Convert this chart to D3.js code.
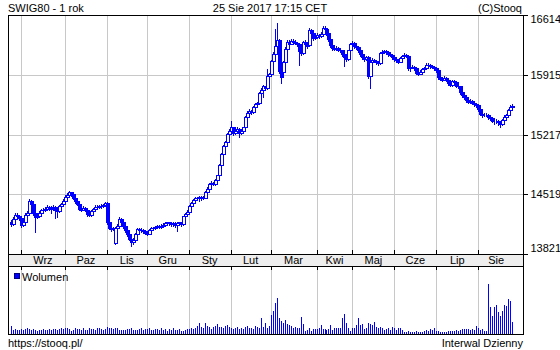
<!DOCTYPE html>
<html>
<head>
<meta charset="utf-8">
<script src="https://cdn.jsdelivr.net/npm/d3@7"></script>
<style>
  body { margin: 0; background: #fff; }
  svg { display: block; font-family: "Liberation Sans", Arial, sans-serif; font-size: 11px; }
</style>
</head>
<body>
<script>
// month labels (first segment = end of Aug 2016, no label) and trading days per month
var monthNames = ["", "Wrz", "Paz", "Lis", "Gru", "Sty", "Lut", "Mar", "Kwi", "Maj", "Cze", "Lip", "Sie"];
var monthDays = [5, 22, 21, 20, 21, 21, 20, 23, 18, 21, 21, 21, 18];
var priceTicks = [13821, 14519, 15217, 15915, 16614];

// daily candles, one line per month
var opens = [
  14200,14170,14230,14280,14260,
  14240,14160,14200,14280,14300,14440,14400,14300,14250,14270,14300,14330,14340,14350,14370,14350,14360,14370,14340,14320,14380,14400,
  14440,14490,14510,14540,14520,14480,14440,14410,14350,14340,14360,14340,14290,14280,14320,14350,14370,14370,14380,14380,14390,
  14420,14190,14130,14110,13950,14130,14150,14230,14200,14150,14100,14050,14000,13960,13990,14060,14110,14100,14100,14090,
  14070,14060,14100,14130,14120,14140,14150,14140,14150,14160,14180,14190,14180,14170,14180,14160,14180,14190,14170,14260,14290,
  14310,14380,14420,14450,14470,14480,14490,14470,14480,14550,14580,14640,14650,14640,14690,14740,14860,14990,15080,15130,15220,
  15260,15300,15230,15260,15280,15230,15260,15300,15420,15470,15490,15480,15540,15570,15580,15700,15740,15780,15760,15900,
  15920,16080,16160,16250,16320,15960,15950,16060,16220,16300,16280,16310,16300,16290,16270,16190,16170,16300,16280,16260,16440,16400,16340,
  16360,16380,16370,16390,16460,16450,16400,16330,16260,16230,16220,16230,16210,16200,16160,16120,16100,16200,
  16270,16290,16250,16240,16200,16160,16120,16100,16120,15900,16070,16090,16080,16060,16050,16170,16180,16190,16180,16160,16150,
  16120,16100,16090,16070,16110,16130,16150,16140,15990,16000,16010,15990,15940,15930,15950,15980,15990,16030,16030,16020,16010,
  15990,15970,15890,15870,15860,15880,15860,15820,15800,15840,15830,15790,15780,15710,15680,15650,15620,15600,15610,15590,15570,
  15560,15510,15460,15440,15450,15450,15420,15410,15380,15370,15380,15360,15340,15390,15420,15450,15500,15540
];
var closes = [
  14170,14230,14280,14260,14240,
  14160,14200,14280,14300,14440,14400,14300,14250,14270,14300,14330,14340,14350,14370,14350,14360,14370,14340,14320,14380,14400,14440,
  14490,14510,14540,14520,14480,14440,14410,14350,14340,14360,14340,14290,14280,14320,14350,14370,14370,14380,14380,14390,14420,
  14190,14130,14110,14120,14130,14150,14230,14200,14150,14100,14050,14000,13960,13990,14060,14110,14100,14100,14090,14070,
  14060,14100,14130,14120,14140,14150,14140,14150,14160,14180,14190,14180,14170,14180,14160,14180,14190,14170,14260,14290,14310,
  14380,14420,14450,14470,14480,14490,14470,14480,14550,14580,14640,14650,14640,14690,14740,14860,14990,15080,15130,15220,15260,
  15300,15230,15260,15280,15230,15260,15300,15420,15470,15490,15480,15540,15570,15580,15700,15740,15780,15760,15900,15920,
  16080,16160,16250,16320,15960,15890,16060,16220,16300,16280,16310,16300,16290,16270,16190,16170,16300,16280,16250,16440,16400,16340,16360,
  16380,16370,16390,16460,16450,16400,16330,16260,16230,16220,16230,16210,16200,16160,16120,16100,16200,16270,
  16290,16250,16240,16200,16160,16120,16100,16120,15900,16070,16090,16080,16060,16050,16170,16180,16190,16180,16160,16150,16120,
  16100,16090,16070,16110,16130,16150,16140,15990,16000,16010,15990,15940,15930,15950,15980,15990,16030,16030,16020,16010,15990,
  15970,15890,15870,15860,15880,15860,15820,15800,15840,15830,15790,15780,15710,15680,15650,15620,15600,15610,15590,15570,15560,
  15510,15460,15440,15450,15450,15420,15410,15380,15370,15380,15360,15340,15390,15420,15450,15500,15540,15550
];
var highs = [
  14220,14250,14300,14300,14270,
  14250,14220,14300,14320,14460,14450,14410,14310,14290,14320,14350,14360,14370,14390,14380,14380,14390,14380,14350,14390,14420,14460,
  14510,14530,14560,14550,14530,14490,14450,14420,14370,14380,14370,14350,14300,14330,14360,14390,14390,14390,14400,14400,14430,
  14430,14200,14140,14140,14140,14170,14250,14240,14210,14160,14110,14060,14010,14010,14070,14130,14120,14120,14110,14100,
  14080,14110,14140,14140,14150,14160,14160,14170,14180,14190,14200,14200,14190,14190,14190,14190,14200,14200,14270,14300,14330,
  14390,14430,14460,14490,14490,14500,14500,14500,14560,14600,14650,14670,14660,14700,14750,14870,15000,15090,15140,15230,15280,
  15370,15310,15280,15300,15290,15280,15310,15430,15490,15510,15500,15550,15580,15600,15710,15760,15800,15790,15980,15940,
  16090,16180,16450,16520,16330,15970,16080,16240,16320,16320,16330,16330,16320,16300,16280,16200,16310,16320,16290,16460,16450,16410,16380,
  16400,16390,16410,16480,16480,16460,16410,16340,16270,16250,16250,16240,16220,16210,16170,16130,16210,16290,
  16310,16300,16270,16250,16210,16170,16130,16140,16130,16080,16110,16100,16090,16070,16180,16200,16210,16200,16190,16170,16160,
  16130,16120,16100,16120,16150,16170,16160,16150,16020,16030,16020,16000,15950,15970,15990,16010,16050,16050,16040,16030,16020,
  16000,15980,15900,15890,15900,15890,15870,15830,15860,15850,15840,15800,15790,15720,15690,15660,15640,15630,15620,15600,15590,
  15570,15520,15470,15470,15470,15460,15430,15420,15390,15400,15390,15370,15400,15440,15460,15510,15560,15570
];
var lows = [
  14150,14160,14210,14240,14220,
  14140,14150,14190,14270,14290,14380,14280,14080,14240,14260,14290,14310,14320,14340,14330,14300,14340,14240,14250,14310,14370,14390,
  14430,14480,14500,14500,14460,14420,14390,14330,14320,14330,14320,14270,14260,14270,14310,14340,14350,14360,14360,14370,14380,
  14170,14110,14090,14100,13940,14120,14140,14180,14130,14080,14030,13980,13920,13940,13980,14050,14080,14080,14070,14050,
  14040,14050,14090,14100,14110,14130,14130,14130,14140,14150,14170,14160,14150,14150,14140,14090,14170,14150,14160,14250,14280,
  14300,14370,14410,14440,14460,14440,14450,14460,14470,14540,14570,14620,14630,14630,14680,14730,14850,14980,15070,15120,15210,
  15250,15210,15220,15250,15190,15220,15250,15290,15410,15460,15460,15470,15530,15560,15570,15690,15660,15740,15750,15890,
  15910,16070,16150,16240,15940,15820,15940,16050,16210,16260,16270,16280,16270,16250,16030,16150,16160,16260,16230,16250,16380,16320,16330,
  16350,16350,16360,16380,16430,16380,16310,16240,16210,16200,16200,16190,16180,16140,16020,16080,16090,16190,
  16260,16230,16220,16180,16140,16100,16080,16090,15880,15760,16060,16060,16040,16030,16040,16160,16170,16160,16140,16130,16100,
  16080,16070,16050,16060,16100,16120,16120,15970,15960,15990,15970,15920,15910,15920,15940,15970,15980,16010,16000,15990,15970,
  15950,15870,15850,15840,15850,15840,15800,15780,15790,15810,15770,15760,15690,15660,15630,15600,15580,15580,15570,15550,15540,
  15490,15440,15420,15430,15430,15400,15390,15360,15340,15350,15330,15300,15330,15380,15410,15440,15490,15530
];
var volumes = [
  8,4,5,4,4,
  5,4,5,6,5,4,5,4,3,4,4,5,4,4,5,4,5,5,4,5,6,5,
  6,6,5,3,4,6,5,5,4,6,4,4,6,5,5,4,6,6,5,4,5,
  7,6,6,5,6,6,4,4,4,4,5,5,6,4,4,4,5,6,4,5,
  5,6,4,4,5,5,4,6,4,5,3,5,4,6,4,4,5,3,3,4,5,
  5,6,5,6,8,11,7,6,11,8,7,5,7,8,10,7,7,6,8,9,7,
  6,5,6,7,5,6,5,7,8,6,6,5,8,7,6,16,7,11,6,8,
  19,23,31,35,16,13,11,14,10,9,8,6,7,6,6,17,10,3,4,6,3,5,5,
  5,6,9,5,5,4,5,9,4,6,6,6,6,16,20,11,6,3,
  6,6,9,16,9,10,5,6,11,10,9,12,7,6,7,6,4,5,6,4,7,
  6,4,6,6,4,2,2,3,2,2,2,3,2,2,2,3,4,3,5,4,6,
  3,3,2,2,2,2,3,3,3,3,4,3,4,5,5,5,5,4,5,4,8,
  6,4,5,3,3,49,27,18,27,29,22,18,23,29,28,34,33,12
];

var width = 560, height = 350;
var plotLeft = 8, plotRight = 523, plotTop = 15, plotBottom = 254, bandBottom = 266, volBottom = 334;
var blue = "#0000ff", grid = "#c8c8c8";

var svg = d3.select("body").append("svg")
  .attr("width", width)
  .attr("height", height);

var x = d3.scaleLinear().domain([0, closes.length]).range([11, 514.2]);
var y = d3.scaleLinear().domain([priceTicks[0], priceTicks[priceTicks.length - 1]]).range([plotBottom, plotTop]);
var yVol = d3.scaleLinear().domain([0, 67]).range([volBottom, bandBottom]);

var cum = Array.from(d3.cumsum(monthDays));
var bounds = cum.slice(0, -1);
var px = function(i) { return Math.round(x(i + 0.5)); };

// band with month names
svg.append("rect").attr("x", plotLeft + 0.5).attr("y", plotBottom + 0.5)
  .attr("width", plotRight - plotLeft).attr("height", bandBottom - plotBottom)
  .attr("fill", "#eeeeee");

// vertical grid (main + volume panel)
var vg = svg.append("g").attr("stroke", grid).attr("shape-rendering", "crispEdges");
bounds.forEach(function(b) {
  var gx = Math.round(x(b)) + 0.5;
  vg.append("line").attr("x1", gx).attr("x2", gx).attr("y1", plotTop).attr("y2", plotBottom);
  vg.append("line").attr("x1", gx).attr("x2", gx).attr("y1", bandBottom).attr("y2", volBottom);
});
// horizontal grid
priceTicks.slice(1, -1).forEach(function(p) {
  var gy = Math.round(y(p)) + 0.5;
  vg.append("line").attr("x1", plotLeft).attr("x2", plotRight).attr("y1", gy).attr("y2", gy);
});

// month ticks above and below the band
var tk = svg.append("g").attr("stroke", "#000").attr("shape-rendering", "crispEdges");
bounds.forEach(function(b) {
  var gx = Math.round(x(b)) + 0.5;
  tk.append("line").attr("x1", gx).attr("x2", gx).attr("y1", plotBottom - 4).attr("y2", plotBottom);
  tk.append("line").attr("x1", gx).attr("x2", gx).attr("y1", bandBottom).attr("y2", bandBottom + 4);
});

// month labels
monthNames.forEach(function(m, k) {
  if (!m) return;
  svg.append("text")
    .attr("x", x((cum[k - 1] + cum[k]) / 2))
    .attr("y", plotBottom + 10)
    .attr("text-anchor", "middle")
    .attr("fill", "#000")
    .text(m);
});

// candles
var data = closes.map(function(c, i) {
  return {i: i, o: opens[i], h: highs[i], l: lows[i], c: c};
});
var cg = svg.append("g").attr("shape-rendering", "crispEdges");
cg.selectAll("rect.wick").data(data).join("rect")
  .attr("class", "wick")
  .attr("x", function(d) { return px(d.i) - 1; })
  .attr("width", 1)
  .attr("y", function(d) { return Math.round(y(d.h)); })
  .attr("height", function(d) { return Math.round(y(d.l)) - Math.round(y(d.h)) + 1; })
  .attr("fill", blue);
cg.selectAll("rect.body").data(data).join("rect")
  .attr("class", "body")
  .attr("x", function(d) { return px(d.i) - 1.5; })
  .attr("width", 3)
  .attr("y", function(d) { return Math.round(y(Math.max(d.o, d.c))) + 0.5; })
  .attr("height", function(d) { return Math.round(y(Math.min(d.o, d.c))) - Math.round(y(Math.max(d.o, d.c))); })
  .attr("fill", function(d) { return d.c > d.o ? "#fff" : blue; })
  .attr("stroke", blue);

// volume bars
svg.append("g").attr("shape-rendering", "crispEdges")
  .selectAll("rect").data(volumes).join("rect")
  .attr("x", function(v, i) { return px(i) - 1; })
  .attr("width", 1)
  .attr("y", function(v) { return Math.round(yVol(v)); })
  .attr("height", function(v) { return volBottom - Math.round(yVol(v)); })
  .attr("fill", blue);

// frames
var fr = svg.append("g").attr("fill", "none").attr("stroke", "#000").attr("shape-rendering", "crispEdges");
fr.append("rect").attr("x", plotLeft + 0.5).attr("y", plotTop + 0.5).attr("width", plotRight - plotLeft).attr("height", plotBottom - plotTop);
fr.append("rect").attr("x", plotLeft + 0.5).attr("y", plotBottom + 0.5).attr("width", plotRight - plotLeft).attr("height", bandBottom - plotBottom);
fr.append("rect").attr("x", plotLeft + 0.5).attr("y", bandBottom + 0.5).attr("width", plotRight - plotLeft).attr("height", volBottom - bandBottom);

// price axis on the right
var yAxis = d3.axisRight(y).tickValues(priceTicks).tickSize(4).tickPadding(3).tickFormat(d3.format("d"));
var ax = svg.append("g").attr("transform", "translate(" + (plotRight + 0.5) + ",0)").call(yAxis);
ax.select(".domain").remove();
ax.selectAll(".tick line").attr("stroke", "#000").attr("shape-rendering", "crispEdges");
ax.selectAll(".tick text")
  .attr("font-family", "Liberation Sans, Arial, sans-serif")
  .attr("font-size", 11)
  .attr("fill", "#000")
  .attr("transform", function(d) {
    if (d === priceTicks[priceTicks.length - 1]) return "translate(0,4)";
    if (d === priceTicks[0]) return "translate(0,-6)";
    return null;
  });

// legend
svg.append("rect").attr("x", 14.5).attr("y", 273.5).attr("width", 5).attr("height", 5)
  .attr("fill", blue).attr("stroke", "#000080");
svg.append("text").attr("x", 22).attr("y", 281).text("Wolumen");

// header and footer
svg.append("text").attr("x", 8).attr("y", 12).text("SWIG80 - 1 rok");
svg.append("text").attr("x", 270).attr("y", 12).attr("text-anchor", "middle").text("25 Sie 2017 17:15 CET");
svg.append("text").attr("x", 522).attr("y", 12).attr("text-anchor", "end").text("(C)Stooq");
svg.append("text").attr("x", 8).attr("y", 347).text("https://stooq.pl/");
svg.append("text").attr("x", 523).attr("y", 347).attr("text-anchor", "end").text("Interwal Dzienny");
</script>
</body>
</html>
